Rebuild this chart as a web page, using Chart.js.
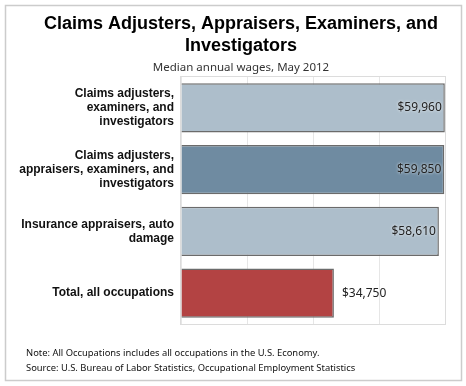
<!DOCTYPE html>
<html>
<head>
<meta charset="utf-8">
<script src="https://cdn.jsdelivr.net/npm/chart.js@4"></script>
<style>
  html, body { margin: 0; padding: 0; background: #fff; }
  #wrap { width: 466px; height: 386px; position: relative; }
</style>
</head>
<body>
<div id="wrap"><canvas id="chart"></canvas></div>
<script>
// Chart data
const categories = [
    ['Claims adjusters,', 'examiners, and', 'investigators'],
    ['Claims adjusters,', 'appraisers, examiners, and', 'investigators'],
    ['Insurance appraisers, auto', 'damage'],
    'Total, all occupations'
];
const wages = [59960, 59850, 58610, 34750];
const barColors = ['#adbecb', '#6f8ba1', '#adbecb', '#b34343'];
const xTicks = [0, 15000, 30000, 45000, 60000];

const titleLines = ['Claims Adjusters, Appraisers, Examiners, and', 'Investigators'];
const subtitleText = 'Median annual wages, May 2012';
const footnotes = [
    'Note: All Occupations includes all occupations in the U.S. Economy.',
    'Source: U.S. Bureau of Labor Statistics, Occupational Employment Statistics'
];

const fmtMoney = v => '$' + v.toLocaleString('en-US');

// Frame, titles, notes and value labels
const decorPlugin = {
    id: 'decor',
    beforeDraw(chart) {
        const ctx = chart.ctx;
        ctx.save();
        ctx.fillStyle = '#fff';
        ctx.fillRect(0, 0, chart.width, chart.height);
        ctx.strokeStyle = '#cccccc';
        ctx.lineWidth = 1.5;
        ctx.strokeRect(5.5, 5.5, 456, 375);
        ctx.restore();
    },
    beforeDatasetsDraw(chart) {
        const { ctx, chartArea: a } = chart;
        ctx.save();
        ctx.strokeStyle = '#dcdcdc';
        ctx.lineWidth = 1;
        ctx.strokeRect(a.left - 0.5, a.top - 0.5, a.right - a.left + 1, a.bottom - a.top + 1);
        ctx.restore();
    },
    afterDatasetsDraw(chart) {
        const ctx = chart.ctx;
        const meta = chart.getDatasetMeta(0);
        ctx.save();
        ctx.font = '12px "Noto Sans"';
        ctx.fillStyle = '#222';
        ctx.textBaseline = 'middle';
        ctx.shadowColor = 'rgba(255,255,255,0.9)';
        ctx.shadowBlur = 3;
        meta.data.forEach((bar, i) => {
            const text = fmtMoney(wages[i]);
            const w = bar.x - bar.base;
            if (w > 200) {
                ctx.textAlign = 'right';
                ctx.fillText(text, bar.x - 3, bar.y);
            } else {
                ctx.textAlign = 'left';
                ctx.fillText(text, bar.x + 8, bar.y);
            }
        });
        ctx.restore();
    },
    afterDraw(chart) {
        const ctx = chart.ctx;
        ctx.save();
        ctx.fillStyle = '#000';
        ctx.textAlign = 'center';
        ctx.textBaseline = 'middle';
        ctx.font = 'bold 18px "Liberation Sans"';
        ctx.fillText(titleLines[0], 241, 24);
        ctx.fillText(titleLines[1], 241, 46);
        ctx.font = '11.5px "Noto Sans"';
        ctx.fillStyle = '#333';
        ctx.fillText(subtitleText, 241, 68);
        ctx.textAlign = 'left';
        ctx.font = '9.4px "Noto Sans"';
        ctx.fillStyle = '#111';
        ctx.fillText(footnotes[0], 26, 353);
        ctx.fillText(footnotes[1], 26, 368);
        ctx.restore();
    }
};

new Chart(document.getElementById('chart'), {
    type: 'bar',
    data: {
        labels: categories,
        datasets: [{
            data: wages,
            backgroundColor: barColors,
            borderColor: '#6b6b6b',
            borderWidth: 1.5,
            barPercentage: 1,
            categoryPercentage: 0.8
        }]
    },
    options: {
        indexAxis: 'y',
        responsive: true,
        maintainAspectRatio: false,
        animation: false,
        layout: { padding: { top: 77, right: 21, bottom: 62, left: 0 } },
        plugins: {
            legend: { display: false },
            tooltip: { enabled: false }
        },
        scales: {
            x: {
                min: xTicks[0],
                max: xTicks[xTicks.length - 1],
                afterBuildTicks: s => { s.ticks = xTicks.map(v => ({ value: v })); },
                ticks: { display: false },
                grid: { color: '#e6e6e6', drawTicks: false },
                border: { display: false },
                afterFit: s => { s.height = 0; }
            },
            y: {
                ticks: {
                    color: '#111',
                    padding: 7,
                    font: { family: '"Liberation Sans", Arial', size: 12, weight: 'bold', lineHeight: 1.15 }
                },
                grid: { display: false, drawTicks: false },
                border: { display: false },
                afterFit: s => { s.width = 181; }
            }
        }
    },
    plugins: [decorPlugin]
});
</script>
</body>
</html>
